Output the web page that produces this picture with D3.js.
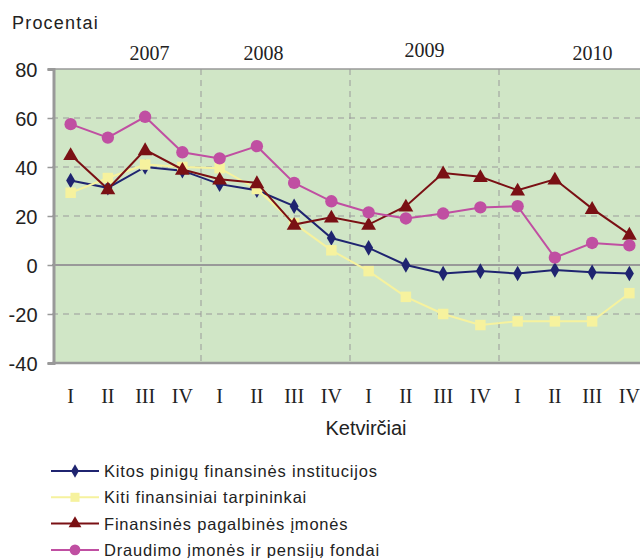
<!DOCTYPE html>
<html>
<head>
<meta charset="utf-8">
<script src="https://cdn.jsdelivr.net/npm/d3@7"></script>
<style>
  body { margin: 0; background: #fff; }
  svg { display: block; }
</style>
</head>
<body>
<div id="chart"></div>
<script>
const quarters = ["I", "II", "III", "IV", "I", "II", "III", "IV", "I", "II", "III", "IV", "I", "II", "III", "IV"];
const years = ["2007", "2008", "2009", "2010"];
const yTicks = [-40, -20, 0, 20, 40, 60, 80];

const kitosPinigu = [34.5, 31.5, 40, 38.5, 33, 30.5, 24, 11, 7, 0, -3.5, -2.5, -3.5, -2, -3, -3.5];
const kitiTarpininkai = [29.5, 35.5, 41, 40, 39.5, 31, 17, 6, -2.5, -13, -20, -24.5, -23, -23, -23, -11.5];
const pagalbines = [45, 31, 47, 39, 35, 33.5, 16.5, 19.5, 16.5, 24, 37.5, 36, 30.5, 35, 23, 12.5];
const draudimo = [57.5, 52, 60.5, 46, 43.5, 48.5, 33.5, 26, 21.5, 19, 21, 23.5, 24, 3, 9, 8];

const series = [
  { name: "Kitos pinigų finansinės institucijos", values: kitosPinigu, color: "#1f2470", marker: "diamond" },
  { name: "Kiti finansiniai tarpininkai", values: kitiTarpininkai, color: "#f6f29e", marker: "square" },
  { name: "Finansinės pagalbinės įmonės", values: pagalbines, color: "#7a1014", marker: "triangle" },
  { name: "Draudimo įmonės ir pensijų fondai", values: draudimo, color: "#c04fa2", marker: "circle" }
];

const W = 640, H = 558;
const plot = { left: 52, right: 648, top: 69, bottom: 363 };

const svg = d3.select("#chart").append("svg").attr("width", W).attr("height", H)
  .style("font-family", "'Liberation Sans', Arial, sans-serif");

const x = d3.scalePoint().domain(d3.range(quarters.length)).range([plot.left, plot.right]).padding(0.5);
const y = d3.scaleLinear().domain([-40, 80]).range([plot.bottom, plot.top]);

// background
svg.append("rect")
  .attr("x", plot.left + 2).attr("y", plot.top)
  .attr("width", plot.right - plot.left).attr("height", plot.bottom - plot.top)
  .attr("fill", "#d0e6c6");

// horizontal grid
svg.append("g").selectAll("line")
  .data(yTicks.filter(d => d !== 0 && d !== -40 && d !== 80))
  .join("line")
  .attr("x1", plot.left).attr("x2", plot.right)
  .attr("y1", d => y(d)).attr("y2", d => y(d))
  .attr("stroke", "#9a9a9a").attr("stroke-width", 1).attr("stroke-dasharray", "6,5");

// year separators
const step = x.step();
svg.append("g").selectAll("line")
  .data([4, 8, 12])
  .join("line")
  .attr("x1", d => x(d) - step / 2).attr("x2", d => x(d) - step / 2)
  .attr("y1", plot.top).attr("y2", plot.bottom)
  .attr("stroke", "#9a9a9a").attr("stroke-width", 1).attr("stroke-dasharray", "6,5");

// zero, top and bottom lines
svg.append("line").attr("x1", plot.left).attr("x2", plot.right)
  .attr("y1", y(0)).attr("y2", y(0)).attr("stroke", "#999").attr("stroke-width", 2);
svg.append("line").attr("x1", plot.left).attr("x2", plot.right)
  .attr("y1", y(80)).attr("y2", y(80)).attr("stroke", "#999").attr("stroke-width", 1.5);
svg.append("line").attr("x1", plot.left).attr("x2", plot.right)
  .attr("y1", y(-40)).attr("y2", y(-40)).attr("stroke", "#999").attr("stroke-width", 2.5);

// y axis
const yAxis = svg.append("g")
  .attr("transform", `translate(${plot.left + 1.5},0)`)
  .call(d3.axisLeft(y).tickValues(yTicks).tickFormat(d => String(d)).tickSize(6).tickPadding(10));
yAxis.select(".domain").attr("stroke", "#999").attr("stroke-width", 3);
yAxis.selectAll(".tick line").attr("stroke", "#999").attr("stroke-width", 1.5);
yAxis.selectAll(".tick text")
  .attr("fill", "#222").attr("font-size", 20)
  .attr("font-family", "'Liberation Sans', Arial, sans-serif")
  .attr("dy", "0.36em");

// quarter labels
svg.append("g").selectAll("text")
  .data(quarters)
  .join("text")
  .attr("x", (d, i) => x(i)).attr("y", 403)
  .attr("text-anchor", "middle")
  .attr("font-family", "'Liberation Serif', 'Times New Roman', serif")
  .attr("font-size", 20).attr("fill", "#222")
  .text(d => d);

// year labels
const yearDx = [23, -12, 0, 19];
const yearBase = [60, 60, 57, 60];
svg.append("g").selectAll("text")
  .data(years)
  .join("text")
  .attr("x", (d, i) => (x(i * 4) + x(i * 4 + 3)) / 2 + yearDx[i])
  .attr("y", (d, i) => yearBase[i])
  .attr("text-anchor", "middle")
  .attr("font-family", "'Liberation Serif', 'Times New Roman', serif")
  .attr("font-size", 20).attr("fill", "#222")
  .text(d => d);

svg.append("text").attr("x", 12).attr("y", 29)
  .attr("font-size", 18).attr("letter-spacing", 1.2).attr("fill", "#222")
  .text("Procentai");
svg.append("text").attr("x", 366).attr("y", 435)
  .attr("text-anchor", "middle").attr("font-size", 20).attr("fill", "#222")
  .text("Ketvirčiai");

const symbolType = {
  diamond: d3.symbolDiamond, square: d3.symbolSquare,
  triangle: d3.symbolTriangle, circle: d3.symbolCircle
};
const symbolSize = { diamond: 70, square: 110, triangle: 95, circle: 120 };

function marker(sel, s) {
  sel.attr("d", d3.symbol().type(symbolType[s.marker]).size(symbolSize[s.marker])())
    .attr("fill", s.color);
}

const line = d3.line().x((d, i) => x(i)).y(d => y(d));

series.forEach(s => {
  const g = svg.append("g");
  g.append("path").datum(s.values)
    .attr("d", line).attr("fill", "none")
    .attr("stroke", s.color).attr("stroke-width", 2);
  g.selectAll("path.m").data(s.values).join("path")
    .attr("class", "m")
    .attr("transform", (d, i) => `translate(${x(i)},${y(d) + (s.marker === "triangle" ? 1 : 0)})`)
    .call(marker, s);
});

// legend
const legend = svg.append("g").selectAll("g")
  .data(series)
  .join("g")
  .attr("transform", (d, i) => `translate(51,${471 + i * 26.3})`);
legend.append("line").attr("x1", 0).attr("x2", 48)
  .attr("stroke", d => d.color).attr("stroke-width", 2);
legend.append("path")
  .attr("transform", "translate(24,0)")
  .each(function (d) {
    d3.select(this)
      .attr("d", d3.symbol().type(symbolType[d.marker]).size(symbolSize[d.marker] * 0.75)())
      .attr("fill", d.color);
  });
legend.append("text").attr("x", 53).attr("y", 6)
  .attr("font-size", 16.5).attr("letter-spacing", 0.8).attr("fill", "#222")
  .text(d => d.name);
</script>
</body>
</html>
